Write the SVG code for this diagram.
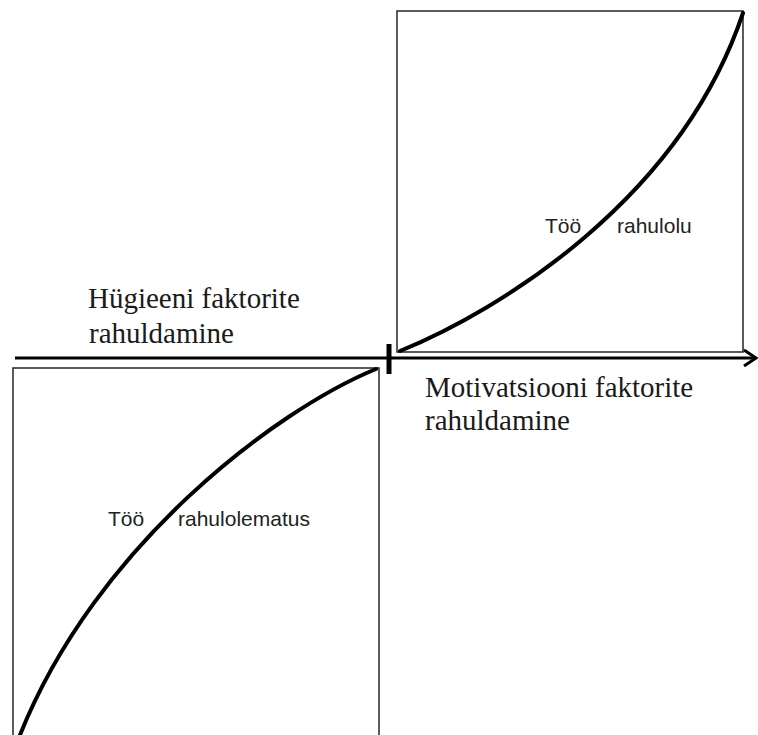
<svg xmlns="http://www.w3.org/2000/svg" width="758" height="735" viewBox="0 0 758 735">
<style>
.box{fill:none;stroke:#333;stroke-width:1.6}
.curve{fill:none;stroke:#000;stroke-width:4;stroke-linecap:round}
.axis{fill:none;stroke:#000;stroke-width:3}
.serif{font-family:"Liberation Serif","Times New Roman",serif;font-size:29px;fill:#1a1a1a}
.sans{font-family:"Liberation Sans",Arial,sans-serif;font-size:21px;fill:#222}
</style>
<rect width="758" height="735" fill="#fff"/>
<g id="quadrant-motivation">
<rect class="box" x="397" y="11" width="346" height="341"/>
<path class="curve" d="M400,351 C500,310 680,200 743,13"/>
<text class="sans" x="545" y="233">Töö</text>
<text class="sans" x="617" y="233">rahulolu</text>
</g>
<g id="quadrant-hygiene">
<rect class="box" x="13" y="368" width="366" height="380"/>
<path class="curve" d="M376,369 C276,410 96,545 20,735"/>
<text class="sans" x="108" y="526">Töö</text>
<text class="sans" x="178" y="526">rahulolematus</text>
</g>
<g id="axis">
<line class="axis" x1="15" y1="358" x2="755" y2="358"/>
<path class="axis" d="M744,350 L756,358 L744,366"/>
<line x1="389" y1="344" x2="389" y2="374" stroke="#000" stroke-width="5"/>
</g>
<g id="labels">
<text class="serif" x="88" y="308">Hügieeni faktorite</text>
<text class="serif" x="89" y="343">rahuldamine</text>
<text class="serif" x="425" y="397">Motivatsiooni faktorite</text>
<text class="serif" x="425" y="430">rahuldamine</text>
</g>
</svg>
